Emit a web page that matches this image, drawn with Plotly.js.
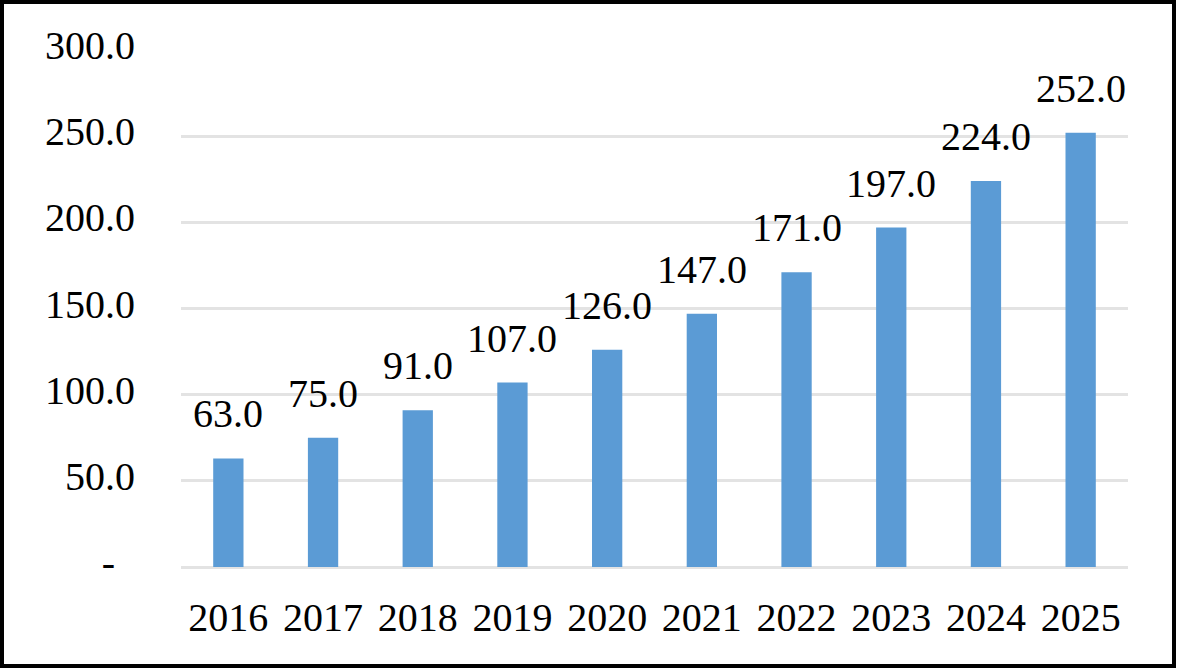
<!DOCTYPE html>
<html>
<head>
<meta charset="utf-8">
<script src="https://cdn.plot.ly/plotly-3.0.1.min.js"></script>
<style>
  html, body { margin: 0; padding: 0; background: #fff; }
  #wrap { position: relative; width: 1178px; height: 670px; }
  #chart { position: absolute; left: 0; top: 0; width: 1178px; height: 670px; }
  #frame { position: absolute; left: 0; top: 0; width: 1176px; height: 668px; box-sizing: border-box; border: 4px solid #000; pointer-events: none; }
</style>
</head>
<body>
<div id="wrap">
  <div id="chart"></div>
  <div id="frame"></div>
</div>
<script>
const years = ['2016','2017','2018','2019','2020','2021','2022','2023','2024','2025'];
const values = [63, 75, 91, 107, 126, 147, 171, 197, 224, 252];
const yTickVals = [0, 50, 100, 150, 200, 250, 300];
const yTickText = ['-\u00a0\u00a0', '50.0', '100.0', '150.0', '200.0', '250.0', '300.0'];

const font = 'Liberation Serif, Times New Roman, serif';

const trace = {
  type: 'bar',
  x: years,
  y: values,
  marker: { color: '#5B9BD5', line: { width: 0 } },
  hoverinfo: 'none'
};

const annotations = years.map((yr, i) => ({
  x: i, y: values[i], xref: 'x', yref: 'y',
  text: values[i].toFixed(1),
  showarrow: false,
  yanchor: 'bottom',
  yshift: 20,
  font: { family: font, size: 40, color: '#000' }
}));

const layout = {
  width: 1178, height: 670,
  margin: { l: 181, r: 50, t: 50, b: 103, pad: 0 },
  paper_bgcolor: '#fff', plot_bgcolor: '#fff',
  showlegend: false,
  bargap: 0.68,
  font: { family: font, size: 40, color: '#000' },
  xaxis: {
    type: 'category',
    range: [-0.5, years.length - 0.5],
    showgrid: false, showline: false, zeroline: false, ticks: '',
    tickfont: { family: font, size: 40, color: '#000' },
    ticklabelstandoff: 23
  },
  yaxis: {
    range: [0, 300],
    tickvals: yTickVals, ticktext: yTickText,
    showgrid: true, gridcolor: '#e3e3e3', gridwidth: 3,
    zeroline: true, zerolinecolor: '#e3e3e3', zerolinewidth: 3,
    showline: false, ticks: '',
    tickfont: { family: font, size: 40, color: '#000' },
    ticklabelstandoff: 45,
    ticklabelshift: -5
  },
  annotations: annotations
};

Plotly.newPlot('chart', [trace], layout, { displayModeBar: false, staticPlot: true });
</script>
</body>
</html>
